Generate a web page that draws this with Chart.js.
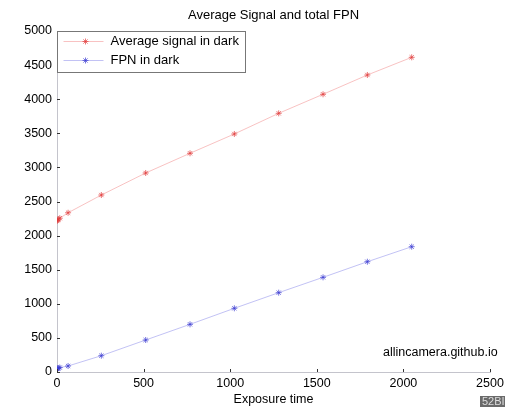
<!DOCTYPE html>
<html>
<head>
<meta charset="utf-8">
<script src="https://cdn.jsdelivr.net/npm/chart.js@4"></script>
<style>
  body { margin: 0; background: #fff; }
  canvas { display: block; }
</style>
</head>
<body>
<canvas id="myChart" width="505" height="407"></canvas>
<script>
// Data
const exposureTimes = [1, 4, 8, 16, 64, 256, 512, 768, 1024, 1280, 1536, 1792, 2048];
const avgSignal = [2215, 2228, 2240, 2255, 2335, 2595, 2918, 3207, 3490, 3793, 4072, 4355, 4614];
const fpnDark = [45, 52, 58, 65, 88, 239, 469, 699, 934, 1163, 1388, 1617, 1837];
const xTickValues = [0, 500, 1000, 1500, 2000, 2500];
const yTickValues = [0, 500, 1000, 1500, 2000, 2500, 3000, 3500, 4000, 4500, 5000];
const seriesNames = ['Average signal in dark', 'FPN in dark'];

const FONT = 'Liberation Sans, Arial, Helvetica, sans-serif';

function toPoints(xs, ys) {
    return xs.map((x, i) => ({ x: x, y: ys[i] }));
}

// ticks inside the axes, legend box, title and watermark (MATLAB look)
const extras = {
    id: 'extras',
    afterDraw(chart) {
        const ctx = chart.ctx;
        const a = chart.chartArea;
        const xs = chart.scales.x, ys = chart.scales.y;
        ctx.save();

        ctx.strokeStyle = '#333';
        ctx.lineWidth = 1;
        ys.ticks.forEach(t => {
            const y = Math.round(ys.getPixelForValue(t.value)) + 0.5;
            ctx.beginPath();
            ctx.moveTo(a.left, y);
            ctx.lineTo(a.left + 3, y);
            ctx.stroke();
        });
        xs.ticks.forEach(t => {
            const x = Math.round(xs.getPixelForValue(t.value)) + 0.5;
            ctx.beginPath();
            ctx.moveTo(x, a.bottom);
            ctx.lineTo(x, a.bottom - 3);
            ctx.stroke();
        });

        // title
        ctx.fillStyle = '#000';
        ctx.font = '13px ' + FONT;
        ctx.textAlign = 'center';
        ctx.textBaseline = 'middle';
        ctx.fillText('Average Signal and total FPN', (a.left + a.right) / 2, 15);

        // legend
        const lx = a.left + 0.5, ly = a.top + 0.5, lw = 188, lh = 41;
        ctx.fillStyle = '#fff';
        ctx.fillRect(lx, ly, lw, lh);
        ctx.strokeStyle = '#777';
        ctx.strokeRect(lx, ly, lw, lh);
        chart.data.datasets.forEach((ds, i) => {
            const cy = ly + 10 + i * 19;
            ctx.strokeStyle = ds.borderColor;
            ctx.lineWidth = 1;
            ctx.beginPath();
            ctx.moveTo(lx + 6, cy);
            ctx.lineTo(lx + 46, cy);
            ctx.stroke();
            ctx.strokeStyle = ds.pointBorderColor;
            Chart.helpers.drawPoint(ctx, {
                pointStyle: 'star', radius: 3, rotation: 0, borderWidth: 1
            }, lx + 28, cy);
            ctx.fillStyle = '#000';
            ctx.font = '13px ' + FONT;
            ctx.textAlign = 'left';
            ctx.fillText(ds.label, lx + 53, cy);
        });

        // watermark
        ctx.fillStyle = '#000';
        ctx.font = '12.5px ' + FONT;
        ctx.textAlign = 'left';
        ctx.fillText('allincamera.github.io', 383, 353);

        ctx.fillStyle = '#6a6a6a';
        ctx.fillRect(480, 396, 30, 12);
        ctx.fillStyle = '#ddd';
        ctx.font = '11px ' + FONT;
        ctx.fillText('52BI', 482, 402);

        ctx.restore();
    }
};

var ctx1 = document.getElementById('myChart').getContext('2d');
var myChart = new Chart(ctx1, {
    type: 'line',
    data: {
        datasets: [{
            label: seriesNames[0],
            data: toPoints(exposureTimes, avgSignal),
            borderColor: 'rgba(240, 120, 120, 0.45)',
            pointBorderColor: 'rgba(225, 60, 60, 0.7)',
            pointBackgroundColor: 'rgba(0,0,0,0)',
            borderWidth: 1,
            pointStyle: 'star',
            pointRadius: 3,
            pointBorderWidth: 1
        }, {
            label: seriesNames[1],
            data: toPoints(exposureTimes, fpnDark),
            borderColor: 'rgba(120, 120, 230, 0.45)',
            pointBorderColor: 'rgba(60, 60, 210, 0.7)',
            pointBackgroundColor: 'rgba(0,0,0,0)',
            borderWidth: 1,
            pointStyle: 'star',
            pointRadius: 3,
            pointBorderWidth: 1
        }]
    },
    options: {
        responsive: false,
        animation: false,
        devicePixelRatio: 1,
        layout: { padding: { top: 31, right: 15, left: 0, bottom: 0 } },
        plugins: {
            legend: { display: false },
            title: { display: false },
            tooltip: { enabled: false }
        },
        scales: {
            x: {
                type: 'linear',
                min: 0,
                max: 2500,
                afterBuildTicks: s => { s.ticks = xTickValues.map(v => ({ value: v })); },
                afterFit: s => { s.height = 35; s.paddingRight = 0; s.paddingLeft = 0; },
                grid: { display: true, drawOnChartArea: false, drawTicks: false, color: 'rgba(0,0,0,0)' },
                border: { display: true, color: '#c4c4cc', width: 1 },
                ticks: { color: '#000', font: { family: FONT, size: 12.5 }, padding: 4, maxRotation: 0, callback: v => String(v) },
                title: { display: true, text: 'Exposure time', color: '#000', font: { family: FONT, size: 12.5 }, padding: { top: 0, bottom: 0 } }
            },
            y: {
                type: 'linear',
                min: 0,
                max: 5000,
                afterBuildTicks: s => { s.ticks = yTickValues.map(v => ({ value: v })); },
                afterFit: s => { s.width = 57; },
                grid: { display: true, drawOnChartArea: false, drawTicks: false, color: 'rgba(0,0,0,0)' },
                border: { display: true, color: '#c4c4cc', width: 1 },
                ticks: { color: '#000', font: { family: FONT, size: 12.5 }, padding: 5, callback: v => String(v) }
            }
        }
    },
    plugins: [extras]
});
</script>
</body>
</html>
